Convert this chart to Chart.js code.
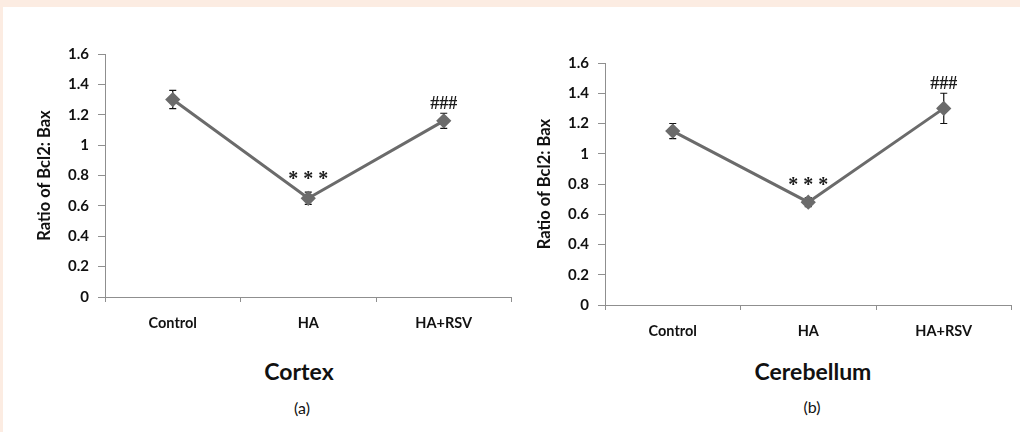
<!DOCTYPE html>
<html>
<head>
<meta charset="utf-8">
<title>Bcl2 : Bax ratio</title>
<script src="https://cdn.jsdelivr.net/npm/chart.js@4.4.0/dist/chart.umd.min.js"></script>
<style>
  html, body { margin: 0; padding: 0; }
  body { width: 1020px; height: 432px; background: #fcece2; position: relative; overflow: hidden; font-family: Lato, "Open Sans", sans-serif; }
  #panel { position: absolute; left: 3px; top: 7px; right: 0; bottom: 0; background: #fff; }
  canvas { position: absolute; top: 0; }
  .title { position: absolute; font-weight: bold; font-size: 23px; color: #111; transform: translate(-50%, -50%); white-space: nowrap; }
  .sub { position: absolute; font-size: 16px; color: #111; transform: translate(-50%, -50%); }
</style>
</head>
<body>
<div id="panel"></div>
<canvas id="cortex" width="520" height="345" style="left:0"></canvas>
<canvas id="cereb" width="500" height="355" style="left:520px"></canvas>
<div class="title" style="left:299px;top:371px">Cortex</div>
<div class="sub" style="left:302px;top:407px">(a)</div>
<div class="title" style="left:813px;top:371px">Cerebellum</div>
<div class="sub" style="left:812px;top:406px">(b)</div>
<script>
var groups = ["Control", "HA", "HA+RSV"];

var cortexMean = [1.30, 0.65, 1.16];
var cortexErr = [0.06, 0.04, 0.05];
var cortexMarks = ["", "* * *", "###"];

var cerebMean = [1.15, 0.68, 1.30];
var cerebErr = [0.05, 0.03, 0.10];
var cerebMarks = ["", "* * *", "###"];

var yMin = 0, yMax = 1.6, yStep = 0.2;

// error bars under the line, significance marks above
var extras = {
  id: "extras",
  beforeDatasetsDraw: function (chart) {
    var o = chart.options.plugins.extras;
    var y = chart.scales.y;
    var ctx = chart.ctx;
    var vals = chart.data.datasets[0].data;
    ctx.save();
    ctx.strokeStyle = "#111";
    ctx.lineWidth = 1.2;
    chart.getDatasetMeta(0).data.forEach(function (pt, i) {
      var t = y.getPixelForValue(vals[i] + o.err[i]);
      var b = y.getPixelForValue(vals[i] - o.err[i]);
      ctx.beginPath();
      ctx.moveTo(pt.x, t); ctx.lineTo(pt.x, b);
      ctx.moveTo(pt.x - 3.5, t); ctx.lineTo(pt.x + 3.5, t);
      ctx.moveTo(pt.x - 3.5, b); ctx.lineTo(pt.x + 3.5, b);
      ctx.stroke();
    });
    ctx.restore();
  },
  afterDatasetsDraw: function (chart) {
    var o = chart.options.plugins.extras;
    var y = chart.scales.y;
    var ctx = chart.ctx;
    var vals = chart.data.datasets[0].data;
    ctx.save();
    ctx.fillStyle = "#1a1a1a";
    ctx.textAlign = "center";
    ctx.textBaseline = "middle";
    chart.getDatasetMeta(0).data.forEach(function (pt, i) {
      var m = o.marks[i];
      if (!m) return;
      var t = y.getPixelForValue(vals[i] + o.err[i]);
      if (m.indexOf("*") >= 0) {
        ctx.font = "bold 20px 'Liberation Serif'";
        ctx.fillText(m, pt.x, t - 12);
      } else {
        ctx.font = "bold 18px 'Liberation Serif'";
        ctx.fillText(m, pt.x, t - 9);
      }
    });
    ctx.restore();
  }
};

function makeChart(id, mean, err, marks, lay) {
  var axisGrey = "#8f8f8f";
  return new Chart(document.getElementById(id), {
    type: "line",
    data: {
      labels: groups,
      datasets: [{
        data: mean,
        borderColor: "#6b6b6b",
        backgroundColor: "#6b6b6b",
        borderWidth: 3,
        pointStyle: "rectRot",
        pointRadius: 5.5,
        pointHoverRadius: 5.5,
        tension: 0
      }]
    },
    options: {
      responsive: false,
      animation: false,
      events: [],
      layout: { padding: { left: 0, right: lay.right, top: lay.top, bottom: 0 } },
      plugins: {
        legend: { display: false },
        tooltip: { enabled: false },
        extras: { err: err, marks: marks }
      },
      scales: {
        x: {
          offset: true,
          grid: { offset: true, drawOnChartArea: false, tickLength: 5, color: axisGrey },
          border: { color: axisGrey, width: 1 },
          ticks: { padding: 13, color: "#111", font: { family: "Lato", weight: "bold", size: 14.5 } },
          afterFit: function (s) { s.height = lay.xh; }
        },
        y: {
          min: yMin,
          max: yMax,
          ticks: {
            stepSize: yStep,
            padding: 9,
            color: "#111",
            font: { family: "Lato", weight: "bold", size: 15 },
            callback: function (v) { return String(Number(v.toFixed(1))); }
          },
          grid: { drawOnChartArea: false, tickLength: 7, color: axisGrey },
          border: { color: axisGrey, width: 1 },
          title: {
            display: true,
            text: "Ratio of Bcl2: Bax",
            color: "#111",
            font: { family: "Lato", weight: "bold", size: 16.5 },
            padding: { top: lay.tp, bottom: 0 }
          },
          afterFit: function (s) { s.width = lay.yw; }
        }
      }
    },
    plugins: [extras]
  });
}

makeChart("cortex", cortexMean, cortexErr, cortexMarks, { top: 54, right: 1, xh: 48, yw: 105, tp: 35 });
makeChart("cereb", cerebMean, cerebErr, cerebMarks, { top: 63, right: 1, xh: 50, yw: 85, tp: 15 });
</script>
</body>
</html>
